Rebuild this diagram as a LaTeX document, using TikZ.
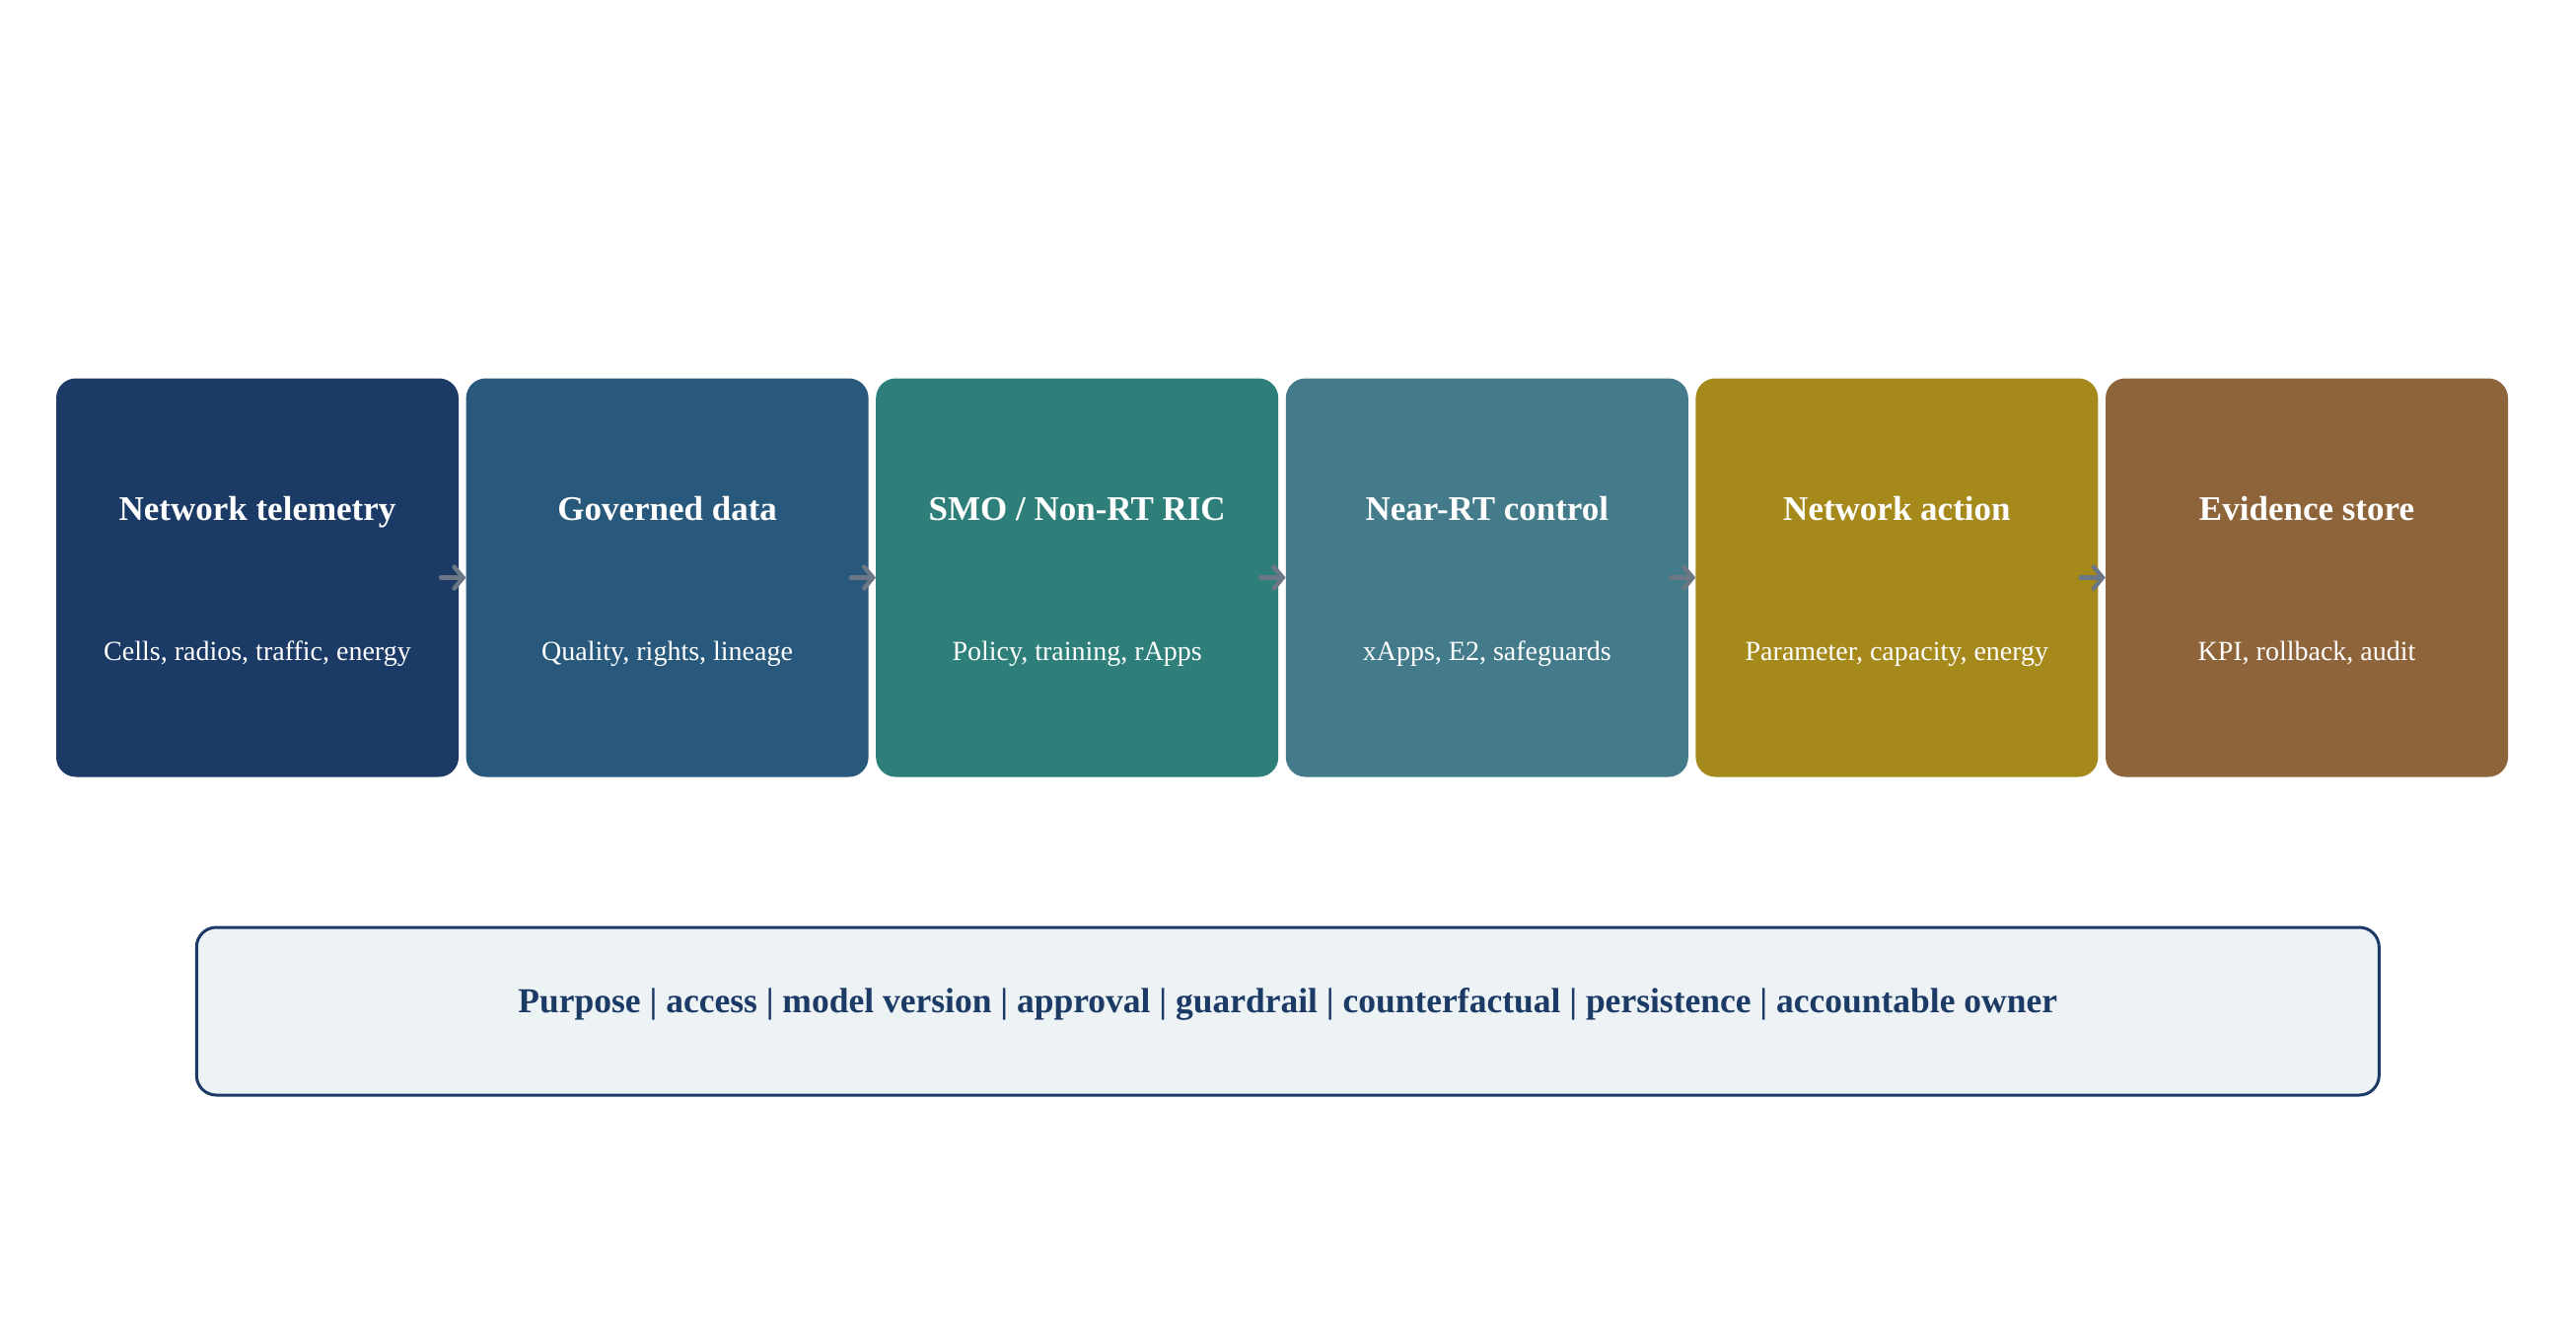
\documentclass[tikz,border=0pt]{standalone}
\usepackage{fontspec}
\setmainfont{Liberation Serif}
\usetikzlibrary{arrows.meta,positioning}

\definecolor{stageA}{HTML}{1B3A66}
\definecolor{stageB}{HTML}{28597C}
\definecolor{stageC}{HTML}{2E7F79}
\definecolor{stageD}{HTML}{447B8A}
\definecolor{stageE}{HTML}{A6891B}
\definecolor{stageF}{HTML}{8E643A}
\definecolor{ledgerfill}{HTML}{EDF2F5}
\definecolor{flowgray}{HTML}{6B7785}

\tikzset{
  stagebox/.style={fill=#1, rounded corners=20pt, minimum width=408pt, minimum height=404pt, inner sep=0pt},
  stagetitle/.style={text=white, font=\fontsize{35}{42}\selectfont\bfseries, anchor=base},
  stagenote/.style={text=white, font=\fontsize{28}{34}\selectfont, anchor=base},
  flow/.style={draw=flowgray, line width=4.5pt, line cap=round, -{Straight Barb[length=9pt,width=22pt,line cap=round]}},
}

\begin{document}
\begin{tikzpicture}[x=1pt,y=-1pt]
  \useasboundingbox (0,0) rectangle (2612,1340);

  % six stages of the pipeline
  \foreach \i/\col/\ttl/\sub in {1/stageA/{Network telemetry}/{Cells, radios, traffic, energy},
      2/stageB/{Governed data}/{Quality, rights, lineage},
      3/stageC/{SMO / Non-RT RIC}/{Policy, training, rApps},
      4/stageD/{Near-RT control}/{xApps, E2, safeguards},
      5/stageE/{Network action}/{Parameter, capacity, energy},
      6/stageF/{Evidence store}/{KPI, rollback, audit}}{
    \node[stagebox=\col] (box\i) at ({261+(\i-1)*415.6},585.5) {};
    \node[stagetitle] (title\i) at ([yshift=58.5pt]box\i.center) {\ttl};
    \node[stagenote] (note\i) at ([yshift=-83.5pt]box\i.center) {\sub};
  }

  % arrows between stages
  \foreach \i [evaluate=\i as \j using int(\i+1)] in {1,...,5}
    \draw[flow] ([xshift=-18pt]box\i.east) -- (box\j.west);

  % governance ledger
  \node[draw=stageA, line width=3pt, fill=ledgerfill, rounded corners=20pt,
        minimum width=2213pt, minimum height=170pt] (ledger) at (1305.8,1025) {};
  \node[anchor=base, text=stageA, font=\fontsize{35.5}{43}\selectfont\bfseries] (ledgertext)
    at ([yshift=-1pt]ledger.center) {Purpose | access | model version | approval | guardrail | counterfactual | persistence | accountable owner};
\end{tikzpicture}
\end{document}
